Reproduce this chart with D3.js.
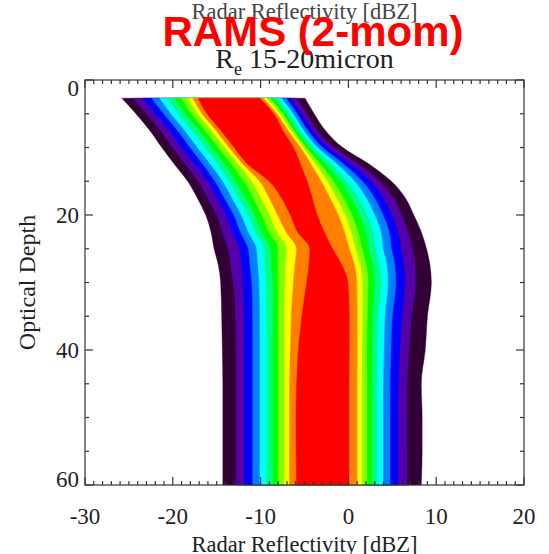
<!DOCTYPE html>
<html>
<head>
<meta charset="utf-8">
<script src="https://cdn.jsdelivr.net/npm/d3@7/dist/d3.min.js"></script>
<style>
  html, body { margin: 0; padding: 0; background: #fff; }
  svg { display: block; }
</style>
</head>
<body>
<svg id="chart" width="549" height="554"></svg>
<script>
// Optical depth rows at which the contour boundaries are sampled
const depths = [2.7, 5, 7.5, 10, 12.5, 15, 17.5, 20, 22.5, 25, 27.5, 30, 35, 40, 45, 50, 55, 60];

// Left boundary (dBZ) of each filled level, outermost level first
const leftEdges = [
  [-25.8, -24.5, -23.4, -22.4, -21.5, -20.6, -19.75, -19.0, -18.2, -17.7, -17.1],
  [-24.2, -23.0, -21.97, -21.04, -20.2, -19.36, -18.57, -17.87, -17.13, -16.66, -16.1],
  [-22.6, -21.39, -20.37, -19.44, -18.6, -17.76, -16.97, -16.27, -15.53, -15.06, -14.5],
  [-21.25, -20.02, -18.98, -18.03, -17.18, -16.33, -15.52, -14.81, -14.05, -13.58, -13.0],
  [-19.8, -18.55, -17.5, -16.55, -15.68, -14.83, -14.03, -13.28, -12.48, -11.98, -11.45],
  [-18.3, -17.1, -16.0, -15.2, -14.3, -13.55, -12.8, -11.9, -11.0, -10.1, -9.0],
  [-17.2, -16.0, -14.95, -14.1, -13.25, -12.45, -11.65, -10.8, -9.9, -9.0, -7.6],
  [-16.25, -15.0, -13.95, -13.05, -12.2, -11.4, -10.65, -9.85, -8.95, -8.05, -6.6],
  [-15.65, -14.35, -13.25, -12.3, -11.4, -10.6, -9.85, -9.05, -8.15, -7.1, -5.8],
  [-15.3, -13.7, -12.4, -11.4, -10.45, -9.6, -8.85, -8.0, -7.0, -5.9, -4.4],
  [-14.8, -13.4, -12.2, -11.2, -10.3, -9.5, -8.75, -8.0, -7.15, -6.1, -4.5],
  [-14.55, -13.1, -12.0, -11.0, -10.15, -9.35, -8.6, -8.0, -7.2, -6.25, -4.75],
  [-14.43, -12.85, -11.85, -10.9, -10.07, -9.35, -8.6, -8.0, -7.3, -6.5, -5.3],
  [-14.36, -12.8, -11.85, -10.9, -10.07, -9.3, -8.6, -8.0, -7.3, -6.6, -5.7],
  [-14.3, -12.8, -11.85, -10.9, -10.07, -9.3, -8.6, -8.0, -7.3, -6.7, -5.9],
  [-14.3, -12.8, -11.85, -10.9, -10.07, -9.3, -8.6, -8.0, -7.3, -6.7, -5.97],
  [-14.3, -12.8, -11.85, -10.9, -10.07, -9.3, -8.6, -8.0, -7.3, -6.7, -5.95],
  [-14.3, -12.8, -11.85, -10.9, -10.07, -9.3, -8.6, -8.0, -7.3, -6.7, -5.9]
];

// Right boundary (dBZ) of each filled level, outermost level first
const rightEdges = [
  [-4.94, -5.9, -6.58, -7.1, -7.6, -8.1, -8.55, -8.93, -9.31, -9.69, -10.07],
  [-3.9, -4.76, -5.37, -5.84, -6.29, -6.74, -7.14, -7.48, -7.82, -8.16, -8.5],
  [-2.6, -3.5, -4.1, -4.6, -5.07, -5.5, -5.88, -6.21, -6.53, -6.85, -7.45],
  [-0.64, -1.64, -2.34, -2.94, -3.49, -3.99, -4.42, -4.8, -5.15, -5.45, -6.25],
  [2.42, 1.22, 0.32, -0.48, -1.23, -1.93, -2.58, -3.18, -3.73, -4.25, -5.45],
  [4.9, 3.55, 2.55, 1.6, 0.7, -0.15, -0.95, -1.7, -2.4, -3.1, -4.7],
  [6.5, 5.1, 4.0, 3.0, 2.05, 1.15, 0.3, -0.55, -1.35, -2.1, -4.1],
  [7.45, 6.05, 4.95, 3.95, 3.0, 2.1, 1.25, 0.4, -0.4, -1.15, -3.55],
  [8.3, 6.8, 5.65, 4.65, 3.7, 2.8, 1.95, 1.1, 0.3, -0.45, -2.75],
  [8.9, 7.3, 6.0, 4.9, 3.95, 3.1, 2.3, 1.55, 0.8, 0.1, -1.8],
  [9.3, 7.6, 6.35, 5.3, 4.4, 3.55, 2.75, 2.05, 1.35, 0.7, -0.7],
  [9.45, 7.65, 6.45, 5.4, 4.5, 3.7, 2.95, 2.25, 1.6, 0.95, -0.05],
  [9.0, 7.2, 6.1, 5.0, 4.15, 3.4, 2.75, 2.15, 1.6, 1.0, 0.1],
  [8.75, 6.9, 5.85, 4.85, 4.05, 3.3, 2.7, 2.1, 1.55, 1.0, 0.1],
  [8.3, 6.7, 5.7, 4.75, 3.95, 3.26, 2.69, 2.12, 1.55, 0.98, 0.07],
  [8.4, 6.7, 5.65, 4.74, 3.94, 3.26, 2.69, 2.12, 1.55, 0.98, 0.07],
  [8.4, 6.7, 5.65, 4.74, 3.94, 3.26, 2.69, 2.12, 1.55, 0.98, 0.07],
  [8.3, 6.67, 5.65, 4.74, 3.94, 3.26, 2.69, 2.12, 1.55, 0.98, 0.07]
];

// Fill colour of each level, outermost first
const levelColors = ["#330036", "#5500a8", "#0000ff", "#0080ff", "#00ffff",
                     "#00ff80", "#00ff00", "#80ff00", "#ffff00", "#ff8000", "#ff0000"];

const xTicks = [-30, -20, -10, 0, 10, 20];
const yTicks = [0, 20, 40, 60];

const svg = d3.select("#chart");
const boxLeft = 85, boxRight = 524, boxTop = 80, boxBottom = 485;
const x = d3.scaleLinear().domain([-30, 20]).range([boxLeft, boxRight]);
const y = d3.scaleLinear().domain([0, 60]).range([boxTop, boxBottom]);
const axisColor = "#333";
const serif = "'Liberation Serif', 'DejaVu Serif', serif";

// Filled contour levels, drawn from the outside in
const plot = svg.append("g");
levelColors.forEach((color, k) => {
  const band = d3.area()
    .y((d, i) => y(d))
    .x0((d, i) => x(leftEdges[i][k]))
    .x1((d, i) => x(rightEdges[i][k]))
    .curve(d3.curveMonotoneY);
  plot.append("path")
    .attr("d", band(depths))
    .attr("fill", color)
    .attr("stroke", color)
    .attr("stroke-width", 0.4);
});

// Axis box with inward-pointing ticks on all four sides
const axes = svg.append("g").attr("stroke", axisColor).attr("stroke-width", 1.2).attr("fill", "none");
axes.append("rect").attr("x", boxLeft).attr("y", boxTop)
  .attr("width", boxRight - boxLeft).attr("height", boxBottom - boxTop);

d3.range(-30, 21, 1).forEach(v => {
  const len = v % 10 === 0 ? 8 : 4;
  axes.append("line").attr("x1", x(v)).attr("x2", x(v)).attr("y1", boxBottom).attr("y2", boxBottom - len);
  axes.append("line").attr("x1", x(v)).attr("x2", x(v)).attr("y1", boxTop).attr("y2", boxTop + len);
});
d3.range(0, 61, 5).forEach(v => {
  const len = v % 20 === 0 ? 8 : 4;
  axes.append("line").attr("y1", y(v)).attr("y2", y(v)).attr("x1", boxLeft).attr("x2", boxLeft + len);
  axes.append("line").attr("y1", y(v)).attr("y2", y(v)).attr("x1", boxRight).attr("x2", boxRight - len);
});

// Tick labels
const labels = svg.append("g").attr("font-family", serif).attr("fill", "#222").attr("font-size", 23);
xTicks.forEach(v => {
  labels.append("text").attr("x", x(v)).attr("y", 524).attr("text-anchor", "middle").text(v);
});
yTicks.forEach(v => {
  // labels stay within the vertical extent of the box
  const cy = Math.min(Math.max(y(v), boxTop + 8), boxBottom - 6);
  labels.append("text").attr("x", 79).attr("y", cy).attr("dy", "0.35em")
    .attr("text-anchor", "end").text(v);
});

// Axis titles
svg.append("text").attr("x", (boxLeft + boxRight) / 2).attr("y", 552)
  .attr("text-anchor", "middle").attr("font-family", serif).attr("font-size", 22.5)
  .attr("fill", "#222").text("Radar Reflectivity [dBZ]");
svg.append("text").attr("transform", `translate(35,${(boxTop + boxBottom) / 2}) rotate(-90)`)
  .attr("text-anchor", "middle").attr("font-family", serif).attr("font-size", 24)
  .attr("fill", "#222").text("Optical Depth");
svg.append("text").attr("x", (boxLeft + boxRight) / 2).attr("y", 19)
  .attr("text-anchor", "middle").attr("font-family", serif).attr("font-size", 22.5)
  .attr("fill", "#444").text("Radar Reflectivity [dBZ]");

// Subtitle with subscript
const sub = svg.append("text").attr("x", (boxLeft + boxRight) / 2).attr("y", 68)
  .attr("text-anchor", "middle").attr("font-family", serif).attr("font-size", 28).attr("fill", "#222");
sub.append("tspan").text("R");
sub.append("tspan").attr("font-size", 18).attr("dy", 7).text("e");
sub.append("tspan").attr("dy", -7).text(" 15-20micron");

// Model label
svg.append("text").attr("x", 313).attr("y", 46)
  .attr("text-anchor", "middle").attr("font-family", "'Liberation Sans', Arial, sans-serif")
  .attr("font-weight", "bold").attr("font-size", 42).attr("fill", "#ff0000")
  .text("RAMS (2-mom)");
</script>
</body>
</html>
